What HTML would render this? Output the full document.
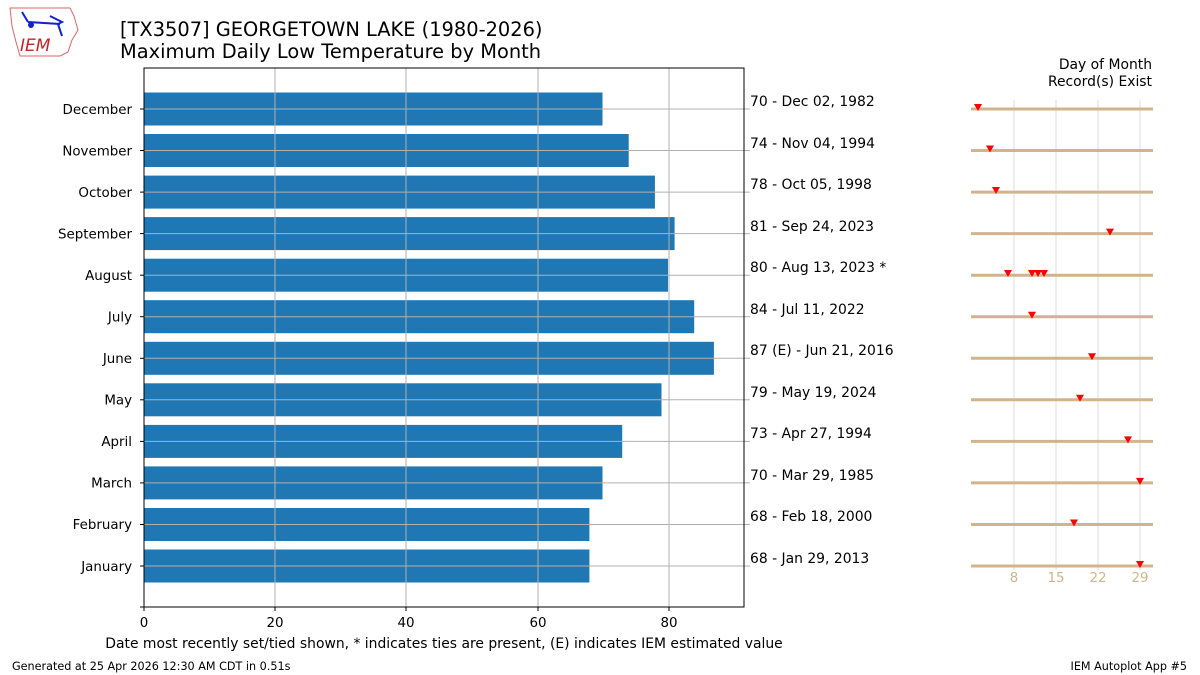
<!DOCTYPE html>
<html><head><meta charset="utf-8"><style>body{margin:0;background:#fff}svg{display:block}text{font-family:"DejaVu Sans","Liberation Sans",sans-serif}</style></head><body>
<svg width="1200" height="675" xmlns="http://www.w3.org/2000/svg">
<rect width="1200" height="675" fill="#fff"/>
<g>
<path d="M10 8 L70 8 L74 16 L78 30 L72 40 L68 52 L60 56 L20 56 L16 42 L12 26 Z" fill="none" stroke="#d66" stroke-width="1"/>
<path d="M22 12 L28 22 M28 22 L60 24 M50 16 L62 22 L58 24 M58 24 L62 36" stroke="#12c" stroke-width="2" fill="none"/>
<circle cx="31" cy="25" r="3" fill="#12c"/>
<text x="20" y="51" font-size="17" fill="#c22" font-style="italic" font-family="Liberation Serif,serif">IEM</text>
</g>
<text x="120" y="36" font-size="19.4">[TX3507] GEORGETOWN LAKE (1980-2026)</text>
<text x="120" y="58" font-size="19.4">Maximum Daily Low Temperature by Month</text>
<g fill="#1f77b4">
<rect x="144" y="92.5" width="458.5" height="33"/>
<rect x="144" y="134" width="484.7" height="33"/>
<rect x="144" y="175.6" width="510.9" height="33"/>
<rect x="144" y="217.1" width="530.6" height="33"/>
<rect x="144" y="258.7" width="524" height="33"/>
<rect x="144" y="300.2" width="550.2" height="33"/>
<rect x="144" y="341.8" width="569.9" height="33"/>
<rect x="144" y="383.3" width="517.5" height="33"/>
<rect x="144" y="424.9" width="478.2" height="33"/>
<rect x="144" y="466.4" width="458.5" height="33"/>
<rect x="144" y="508" width="445.4" height="33"/>
<rect x="144" y="549.5" width="445.4" height="33"/>
</g>
<g stroke="#b0b0b0" stroke-width="1">
<line x1="275" y1="68" x2="275" y2="607"/><line x1="406" y1="68" x2="406" y2="607"/><line x1="538" y1="68" x2="538" y2="607"/><line x1="669" y1="68" x2="669" y2="607"/>
<line x1="144" y1="109" x2="750" y2="109"/><line x1="144" y1="150.5" x2="750" y2="150.5"/><line x1="144" y1="192.1" x2="750" y2="192.1"/><line x1="144" y1="233.6" x2="750" y2="233.6"/><line x1="144" y1="275.2" x2="750" y2="275.2"/><line x1="144" y1="316.7" x2="750" y2="316.7"/><line x1="144" y1="358.3" x2="750" y2="358.3"/><line x1="144" y1="399.8" x2="750" y2="399.8"/><line x1="144" y1="441.4" x2="750" y2="441.4"/><line x1="144" y1="482.9" x2="750" y2="482.9"/><line x1="144" y1="524.5" x2="750" y2="524.5"/><line x1="144" y1="566" x2="750" y2="566"/>
</g>
<rect x="144" y="68" width="600" height="539" fill="none" stroke="#000" stroke-width="1"/>
<g stroke="#000"><line x1="144" y1="607" x2="144" y2="611"/><line x1="275" y1="607" x2="275" y2="611"/><line x1="406" y1="607" x2="406" y2="611"/><line x1="538" y1="607" x2="538" y2="611"/><line x1="669" y1="607" x2="669" y2="611"/><line x1="140" y1="607" x2="144" y2="607"/>
<line x1="140" y1="109" x2="144" y2="109"/><line x1="140" y1="150.5" x2="144" y2="150.5"/><line x1="140" y1="192.1" x2="144" y2="192.1"/><line x1="140" y1="233.6" x2="144" y2="233.6"/><line x1="140" y1="275.2" x2="144" y2="275.2"/><line x1="140" y1="316.7" x2="144" y2="316.7"/><line x1="140" y1="358.3" x2="144" y2="358.3"/><line x1="140" y1="399.8" x2="144" y2="399.8"/><line x1="140" y1="441.4" x2="144" y2="441.4"/><line x1="140" y1="482.9" x2="144" y2="482.9"/><line x1="140" y1="524.5" x2="144" y2="524.5"/><line x1="140" y1="566" x2="144" y2="566"/></g>
<g font-size="13.4" text-anchor="middle"><text x="144" y="627">0</text><text x="275" y="627">20</text><text x="406" y="627">40</text><text x="538" y="627">60</text><text x="669" y="627">80</text></g>
<g font-size="13.4" text-anchor="end">
<text x="132" y="114">December</text><text x="132" y="155.5">November</text><text x="132" y="197">October</text><text x="132" y="238.5">September</text><text x="132" y="280">August</text><text x="132" y="321.5">July</text><text x="132" y="363">June</text><text x="132" y="404.5">May</text><text x="132" y="446">April</text><text x="132" y="487.5">March</text><text x="132" y="529">February</text><text x="132" y="571">January</text>
</g>
<g font-size="13.9">
<text x="750" y="106">70 - Dec 02, 1982</text><text x="750" y="148">74 - Nov 04, 1994</text><text x="750" y="189">78 - Oct 05, 1998</text><text x="750" y="231">81 - Sep 24, 2023</text><text x="750" y="272">80 - Aug 13, 2023 *</text><text x="750" y="314">84 - Jul 11, 2022</text><text x="750" y="355">87 (E) - Jun 21, 2016</text><text x="750" y="397">79 - May 19, 2024</text><text x="750" y="438">73 - Apr 27, 1994</text><text x="750" y="480">70 - Mar 29, 1985</text><text x="750" y="521">68 - Feb 18, 2000</text><text x="750" y="563">68 - Jan 29, 2013</text>
</g>
<text x="444" y="648" font-size="13.9" text-anchor="middle">Date most recently set/tied shown, * indicates ties are present, (E) indicates IEM estimated value</text>
<text x="1152" y="69" font-size="13.9" text-anchor="end">Day of Month</text>
<text x="1152" y="86" font-size="13.9" text-anchor="end">Record(s) Exist</text>
<g stroke="#eee" stroke-width="2">
<line x1="1014" y1="100" x2="1014" y2="570"/><line x1="1056" y1="100" x2="1056" y2="570"/><line x1="1098" y1="100" x2="1098" y2="570"/><line x1="1140" y1="100" x2="1140" y2="570"/>
</g>
<g stroke="#d2b48c" stroke-width="3">
<line x1="971" y1="109" x2="1153" y2="109"/><line x1="971" y1="150.5" x2="1153" y2="150.5"/><line x1="971" y1="192.1" x2="1153" y2="192.1"/><line x1="971" y1="233.6" x2="1153" y2="233.6"/><line x1="971" y1="275.2" x2="1153" y2="275.2"/><line x1="971" y1="316.7" x2="1153" y2="316.7"/><line x1="971" y1="358.3" x2="1153" y2="358.3"/><line x1="971" y1="399.8" x2="1153" y2="399.8"/><line x1="971" y1="441.4" x2="1153" y2="441.4"/><line x1="971" y1="482.9" x2="1153" y2="482.9"/><line x1="971" y1="524.5" x2="1153" y2="524.5"/><line x1="971" y1="566" x2="1153" y2="566"/>
</g>
<g fill="#f00">
<path d="M974 104h8l-4 7z"/><path d="M986 145.5h8l-4 7z"/><path d="M992 187h8l-4 7z"/><path d="M1106 228.6h8l-4 7z"/>
<path d="M1004 270h8l-4 7z"/><path d="M1028 270h8l-4 7z"/><path d="M1034 270h8l-4 7z"/><path d="M1040 270h8l-4 7z"/>
<path d="M1028 311.7h8l-4 7z"/><path d="M1088 353.3h8l-4 7z"/><path d="M1076 394.8h8l-4 7z"/><path d="M1124 436.4h8l-4 7z"/><path d="M1136 477.9h8l-4 7z"/><path d="M1070 519.5h8l-4 7z"/><path d="M1136 561h8l-4 7z"/>
</g>
<g font-size="13.4" fill="#d2b48c" text-anchor="middle"><text x="1014" y="582">8</text><text x="1056" y="582">15</text><text x="1098" y="582">22</text><text x="1140" y="582">29</text></g>
<text x="12" y="670" font-size="11.2">Generated at 25 Apr 2026 12:30 AM CDT in 0.51s</text>
<text x="1187" y="670" font-size="11.2" text-anchor="end">IEM Autoplot App #5</text>
</svg>
</body></html>
